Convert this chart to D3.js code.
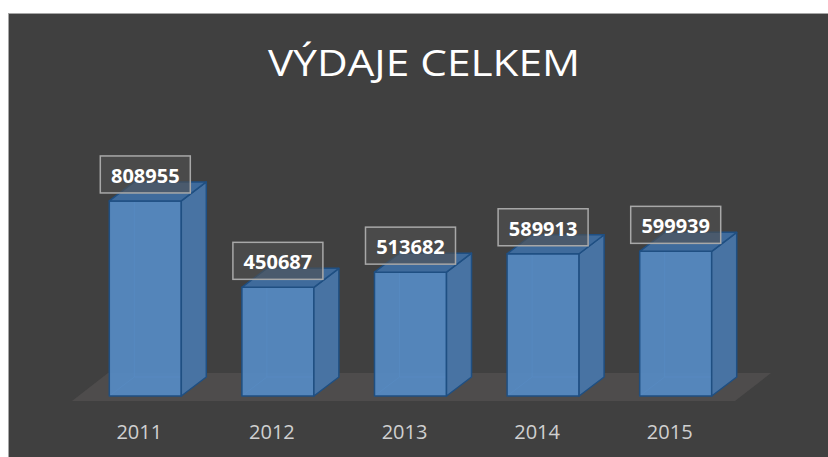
<!DOCTYPE html>
<meta charset="utf-8">
<script src="https://d3js.org/d3.v7.min.js"></script>
<style>
body { margin: 0; background: #fff; }
text { font-family: "Open Sans", sans-serif; }
</style>
<body>
<div id="chart"></div>
<script>
// data
var years = ["2011", "2012", "2013", "2014", "2015"]
var values = [808955, 450687, 513682, 589913, 599939]
var title = "VÝDAJE CELKEM"

var data = years.map(function(y, i){ return {year: y, value: values[i]} })

var W = 828, H = 457
var depth = {dx: 25, dy: -19}      // bar depth offset
var floorDepth = {dx: 36, dy: -28}

var svg = d3.select("#chart").append("svg")
    .attr("width", W)
    .attr("height", H)

// chart area
svg.append("rect")
    .attr("x", 8.5).attr("y", 13.5)
    .attr("width", W).attr("height", H)
    .attr("fill", "#404040")
    .attr("stroke", "#a6a6a6")

svg.append("text")
    .attr("x", 424).attr("y", 76)
    .attr("text-anchor", "middle")
    .attr("font-size", 36)
    .attr("textLength", 312)
    .attr("lengthAdjust", "spacingAndGlyphs")
    .attr("fill", "#ffffff")
    .text(title)

var x = d3.scaleBand()
    .domain(years)
    .range([79, 742])
    .paddingInner(0.457)
    .paddingOuter(0.2285)

var y = d3.scaleLinear()
    .domain([0, 900000])
    .range([396, 179])

// floor
var fx0 = x.range()[0] - 7, fx1 = x.range()[1] - 7, fy = y(0) + 5
svg.append("path")
    .attr("d", "M" + fx0 + "," + fy + "L" + fx1 + "," + fy +
               "L" + (fx1 + floorDepth.dx) + "," + (fy + floorDepth.dy) +
               "L" + (fx0 + floorDepth.dx) + "," + (fy + floorDepth.dy) + "Z")
    .attr("fill", "#4e4c4c")

// x axis labels
var xAxis = d3.axisBottom(x).tickSize(0).tickPadding(0)
var xg = svg.append("g")
    .attr("transform", "translate(-6,423)")
    .call(xAxis)
xg.select(".domain").remove()
xg.selectAll("text")
    .attr("font-family", "Open Sans, sans-serif")
    .attr("font-size", 20)
    .attr("fill", "#d0d0d0")
    .attr("dy", "0.8em")

// bars
var bw = x.bandwidth()
var bars = svg.append("g").selectAll("g.bar")
    .data(data)
    .enter().append("g")
    .attr("class", "bar")

function pts(p){ return p.map(function(d){ return d.join(",") }).join(" ") }

// back edges visible through the transparent faces
bars.append("path")
    .attr("d", function(d){
      var x0 = x(d.year), y0 = y(d.value), yb = y(0)
      return "M" + (x0 + depth.dx) + "," + (y0 + depth.dy) + "V" + (yb + depth.dy) +
             "M" + x0 + "," + yb + "L" + (x0 + depth.dx) + "," + (yb + depth.dy) +
             "H" + (x0 + bw + depth.dx)
    })
    .attr("stroke", "#6f9fd4")
    .attr("stroke-opacity", 0.5)
    .attr("fill", "none")

bars.append("polygon")   // front
    .attr("points", function(d){
      var x0 = x(d.year), y0 = y(d.value), yb = y(0)
      return pts([[x0, y0], [x0 + bw, y0], [x0 + bw, yb], [x0, yb]])
    })
    .attr("fill", "#568bc4")
    .attr("fill-opacity", 0.92)
    .attr("stroke", "#1f4f82")
    .attr("stroke-width", 1.5)
    .attr("stroke-linejoin", "round")

bars.append("polygon")   // side
    .attr("points", function(d){
      var x0 = x(d.year) + bw, y0 = y(d.value), yb = y(0)
      return pts([[x0, y0], [x0 + depth.dx, y0 + depth.dy], [x0 + depth.dx, yb + depth.dy], [x0, yb]])
    })
    .attr("fill", "#4873a3")
    .attr("stroke", "#1f4f82")
    .attr("stroke-width", 1.5)
    .attr("stroke-linejoin", "round")

bars.append("polygon")   // top
    .attr("points", function(d){
      var x0 = x(d.year), y0 = y(d.value)
      return pts([[x0, y0], [x0 + bw, y0], [x0 + bw + depth.dx, y0 + depth.dy], [x0 + depth.dx, y0 + depth.dy]])
    })
    .attr("fill", "#3f6b9c")
    .attr("stroke", "#1f4f82")
    .attr("stroke-width", 1.5)
    .attr("stroke-linejoin", "round")

// value labels
var lw = 90, lh = 37
bars.append("rect")
    .attr("x", function(d){ return x(d.year) + bw / 2 - lw / 2 })
    .attr("y", function(d){ return y(d.value) - 45 })
    .attr("width", lw).attr("height", lh)
    .attr("fill", "#505050")
    .attr("fill-opacity", 0.62)
    .attr("stroke", "#a8a8a8")
    .attr("stroke-width", 1.5)

bars.append("text")
    .attr("x", function(d){ return x(d.year) + bw / 2 })
    .attr("y", function(d){ return y(d.value) - 18 })
    .attr("text-anchor", "middle")
    .attr("font-size", 20)
    .attr("font-weight", "bold")
    .attr("fill", "#ffffff")
    .text(function(d){ return d.value })
</script>
</body>
